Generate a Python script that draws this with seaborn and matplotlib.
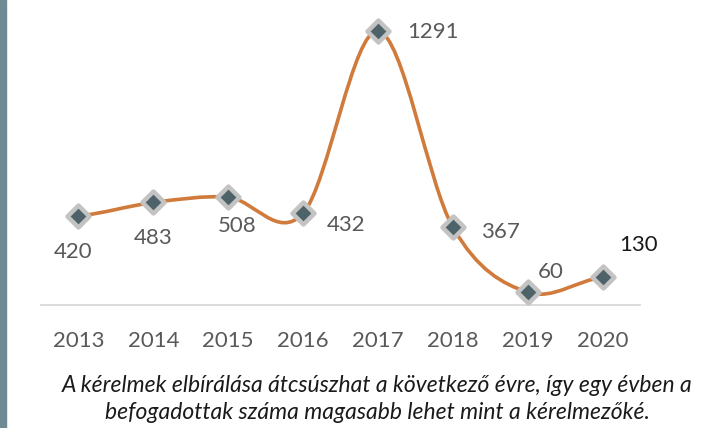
import matplotlib
matplotlib.use("Agg")
import matplotlib.pyplot as plt
import seaborn as sns
import pandas as pd
from matplotlib.path import Path
from matplotlib.patches import PathPatch, Rectangle

years = ["2013", "2014", "2015", "2016", "2017", "2018", "2019", "2020"]
values = [420, 483, 508, 432, 1291, 367, 60, 130]
caption = ("A kérelmek elbírálása átcsúszhat a következő évre, így egy évben a\n"
           "befogadottak száma magasabb lehet mint a kérelmezőké.")

sns.set_theme(style="white")
plt.rcParams['font.family'] = ['Lato', 'DejaVu Sans']

LINE = "#d07b3c"
FILL = "#4e6269"
EDGE = "#c3c3c3"
LABEL = "#595959"

df = pd.DataFrame({"pos": range(len(years)), "value": values, "year": years})

fig = plt.figure(figsize=(7.17, 4.28), dpi=100)
ax = fig.add_axes([41/717, 1-305/428, 599/717, 295/428])

# smooth (Catmull-Rom style) curve through the data points
n = len(values)
xs = list(range(n))
tang = []
for i in range(n):
    lo = max(i-1, 0)
    hi = min(i+1, n-1)
    tang.append((values[hi]-values[lo])/2.0)
verts = [(xs[0], values[0])]
codes = [Path.MOVETO]
for i in range(n-1):
    verts += [(xs[i]+1/3, values[i]+tang[i]/3),
              (xs[i+1]-1/3, values[i+1]-tang[i+1]/3),
              (xs[i+1], values[i+1])]
    codes += [Path.CURVE4]*3
ax.add_patch(PathPatch(Path(verts, codes), fill=False, edgecolor=LINE,
                       lw=2.6, transform=ax.transData, zorder=2,
                       capstyle='round', joinstyle='round'))

sns.scatterplot(data=df, x="pos", y="value", marker="D", s=125,
                color=FILL, edgecolor=EDGE, linewidth=3.2, zorder=3, ax=ax,
                legend=False)

ax.set_xlim(-0.5, n-0.5)
ax.set_ylim(0, 1390)
ax.set_xticks(xs)
ax.set_xticklabels(years)
ax.set_yticks([])
ax.set_xlabel("")
ax.set_ylabel("")
for s in ["top", "left", "right"]:
    ax.spines[s].set_visible(False)
ax.spines["bottom"].set_color("#d9d9d9")
ax.spines["bottom"].set_linewidth(1.3)
ax.tick_params(axis="x", length=0, pad=19, labelsize=16, labelcolor=LABEL)

# label offsets in pixels (dx, dy) relative to the point
offsets = [(-5, -36), (0, -36), (9, -29), (43, -12), (55, -1), (48, -5), (23, 20), (36, 32)]
colors = [LABEL]*7 + ["#1a1a1a"]
for i, v in enumerate(values):
    ax.annotate(str(v), (xs[i], v), xytext=offsets[i], textcoords="offset pixels",
                ha="center", va="center", fontsize=16, color=colors[i], zorder=4)

fig.text(377/717, 1-399/428, caption, ha="center", va="center", fontsize=16.5,
         style="italic", color="#1a1a1a", linespacing=1.3)

fig.patches.append(Rectangle((0, 0), 6/717, 1, transform=fig.transFigure,
                             color="#6f8a92", zorder=0))

fig.savefig("out.png", dpi=100)
